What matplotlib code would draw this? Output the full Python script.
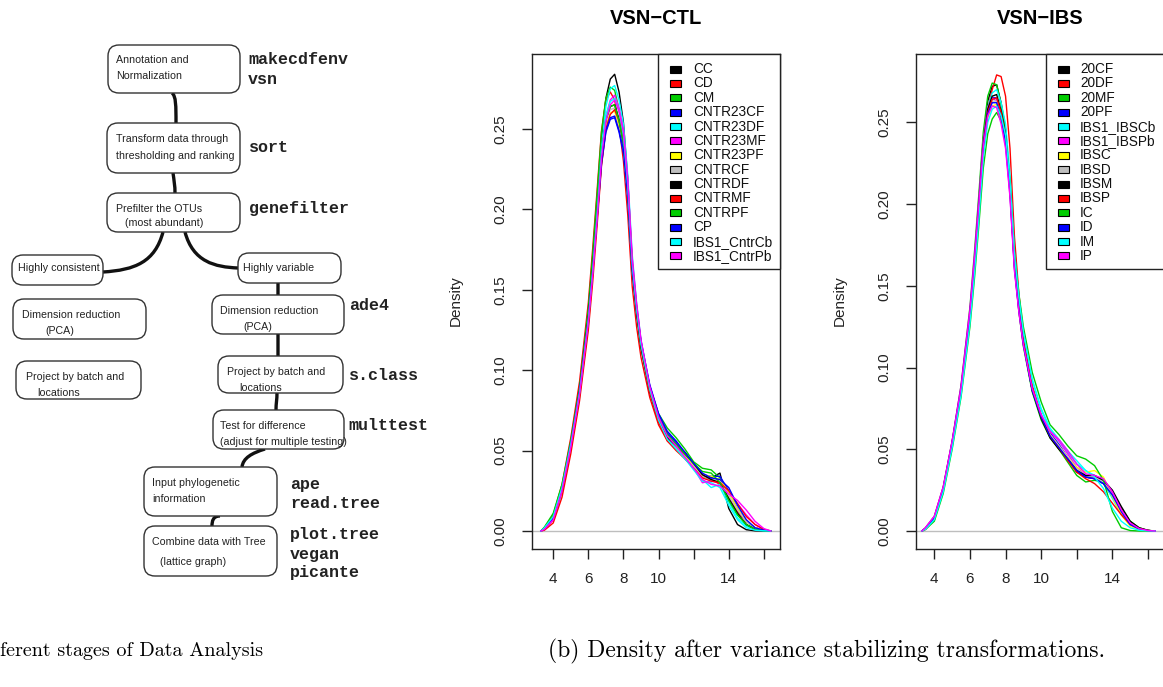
import matplotlib
matplotlib.use("Agg")
import matplotlib.pyplot as plt
from matplotlib.patches import FancyBboxPatch, Rectangle, PathPatch
from matplotlib.path import Path

# ---------------- data ----------------
x_grid = [3.3, 3.5, 4.0, 4.5, 5.0, 5.5, 6.0, 6.25, 6.5, 6.75, 7.0, 7.25, 7.5, 7.75,
          8.0, 8.25, 8.5, 8.75, 9.0, 9.5, 10.0, 10.5, 11.0, 11.5, 12.0, 12.5, 13.0,
          13.5, 14.0, 14.5, 15.0, 15.5, 16.0, 16.4]

ctl_names = ["CC", "CD", "CM", "CNTR23CF", "CNTR23DF", "CNTR23MF", "CNTR23PF",
             "CNTRCF", "CNTRDF", "CNTRMF", "CNTRPF", "CP", "IBS1_CntrCb", "IBS1_CntrPb"]
ctl_density = [
    [0, 0.001, 0.007, 0.025, 0.053, 0.086, 0.133, 0.166, 0.203, 0.244, 0.269, 0.281, 0.284, 0.273, 0.254, 0.218, 0.166, 0.137, 0.114, 0.086, 0.068, 0.058, 0.054, 0.049, 0.042, 0.035, 0.033, 0.036, 0.014, 0.004, 0.0008, 0.0001, 0, 0],
    [0, 0.002, 0.010, 0.029, 0.058, 0.093, 0.142, 0.176, 0.212, 0.249, 0.268, 0.273, 0.268, 0.252, 0.230, 0.196, 0.152, 0.127, 0.108, 0.083, 0.066, 0.056, 0.051, 0.045, 0.039, 0.034, 0.032, 0.029, 0.021, 0.012, 0.006, 0.002, 0.0005, 0],
    [0, 0.0025, 0.011, 0.029, 0.056, 0.089, 0.138, 0.172, 0.209, 0.248, 0.269, 0.276, 0.274, 0.262, 0.244, 0.211, 0.163, 0.136, 0.116, 0.090, 0.073, 0.064, 0.058, 0.051, 0.043, 0.039, 0.038, 0.033, 0.020, 0.010, 0.004, 0.0015, 0.0003, 0],
    [0, 0.0015, 0.008, 0.026, 0.054, 0.087, 0.132, 0.162, 0.194, 0.228, 0.248, 0.256, 0.257, 0.248, 0.235, 0.206, 0.161, 0.136, 0.116, 0.090, 0.072, 0.061, 0.055, 0.048, 0.041, 0.035, 0.034, 0.034, 0.025, 0.014, 0.006, 0.002, 0.0005, 0],
    [0, 0.001, 0.007, 0.024, 0.051, 0.083, 0.128, 0.160, 0.197, 0.238, 0.264, 0.275, 0.277, 0.268, 0.253, 0.221, 0.172, 0.142, 0.119, 0.089, 0.070, 0.058, 0.051, 0.045, 0.039, 0.032, 0.027, 0.029, 0.018, 0.008, 0.003, 0.001, 0.0002, 0],
    [0, 0.001, 0.007, 0.025, 0.052, 0.085, 0.130, 0.160, 0.195, 0.233, 0.258, 0.268, 0.271, 0.263, 0.249, 0.218, 0.170, 0.141, 0.118, 0.089, 0.071, 0.059, 0.052, 0.046, 0.039, 0.030, 0.031, 0.030, 0.024, 0.017, 0.010, 0.004, 0.001, 0],
    [0, 0.0015, 0.008, 0.026, 0.054, 0.087, 0.131, 0.161, 0.195, 0.230, 0.252, 0.260, 0.261, 0.252, 0.238, 0.208, 0.162, 0.136, 0.115, 0.088, 0.070, 0.059, 0.053, 0.047, 0.041, 0.035, 0.034, 0.032, 0.024, 0.014, 0.006, 0.002, 0.0005, 0],
    [0, 0.0015, 0.008, 0.026, 0.053, 0.086, 0.131, 0.162, 0.196, 0.232, 0.254, 0.262, 0.263, 0.254, 0.239, 0.208, 0.161, 0.135, 0.114, 0.087, 0.069, 0.058, 0.052, 0.046, 0.040, 0.034, 0.032, 0.031, 0.022, 0.013, 0.006, 0.002, 0.0005, 0],
    [0, 0.0015, 0.008, 0.026, 0.054, 0.087, 0.133, 0.164, 0.198, 0.234, 0.256, 0.264, 0.265, 0.256, 0.241, 0.209, 0.162, 0.135, 0.114, 0.087, 0.069, 0.058, 0.053, 0.048, 0.042, 0.035, 0.032, 0.030, 0.020, 0.011, 0.004, 0.001, 0.0002, 0],
    [0, 0.0005, 0.005, 0.021, 0.048, 0.081, 0.125, 0.155, 0.190, 0.227, 0.250, 0.259, 0.262, 0.255, 0.242, 0.213, 0.167, 0.139, 0.117, 0.087, 0.068, 0.056, 0.050, 0.045, 0.039, 0.033, 0.031, 0.030, 0.025, 0.017, 0.009, 0.004, 0.001, 0],
    [0, 0.002, 0.009, 0.027, 0.055, 0.088, 0.134, 0.165, 0.199, 0.235, 0.256, 0.264, 0.265, 0.255, 0.241, 0.211, 0.166, 0.139, 0.117, 0.089, 0.071, 0.060, 0.054, 0.048, 0.042, 0.037, 0.036, 0.030, 0.019, 0.010, 0.004, 0.001, 0.0002, 0],
    [0, 0.0015, 0.008, 0.026, 0.054, 0.087, 0.132, 0.162, 0.195, 0.229, 0.249, 0.257, 0.258, 0.249, 0.237, 0.208, 0.163, 0.138, 0.118, 0.091, 0.073, 0.062, 0.056, 0.049, 0.042, 0.036, 0.033, 0.032, 0.027, 0.016, 0.007, 0.002, 0.0005, 0],
    [0, 0.002, 0.009, 0.027, 0.054, 0.086, 0.131, 0.162, 0.197, 0.235, 0.258, 0.267, 0.269, 0.261, 0.246, 0.214, 0.166, 0.138, 0.116, 0.088, 0.069, 0.057, 0.051, 0.045, 0.038, 0.031, 0.030, 0.027, 0.016, 0.007, 0.002, 0.0005, 0.0001, 0],
    [0, 0.001, 0.007, 0.025, 0.052, 0.085, 0.130, 0.160, 0.194, 0.232, 0.255, 0.265, 0.268, 0.261, 0.248, 0.217, 0.169, 0.141, 0.119, 0.090, 0.071, 0.059, 0.053, 0.046, 0.039, 0.032, 0.029, 0.028, 0.023, 0.019, 0.013, 0.006, 0.0015, 0],
]

ibs_names = ["20CF", "20DF", "20MF", "20PF", "IBS1_IBSCb", "IBS1_IBSPb", "IBSC",
             "IBSD", "IBSM", "IBSP", "IC", "ID", "IM", "IP"]
ibs_density = [
    [0, 0.0015, 0.008, 0.026, 0.054, 0.087, 0.134, 0.166, 0.202, 0.240, 0.263, 0.272, 0.273, 0.262, 0.246, 0.213, 0.165, 0.137, 0.115, 0.086, 0.070, 0.058, 0.051, 0.044, 0.036, 0.033, 0.033, 0.030, 0.023, 0.013, 0.005, 0.0015, 0.0003, 0],
    [0, 0.001, 0.007, 0.025, 0.053, 0.086, 0.130, 0.161, 0.195, 0.234, 0.258, 0.270, 0.279, 0.278, 0.266, 0.234, 0.180, 0.145, 0.120, 0.089, 0.071, 0.058, 0.050, 0.044, 0.037, 0.033, 0.032, 0.029, 0.021, 0.012, 0.005, 0.0015, 0.0003, 0],
    [0, 0.002, 0.009, 0.027, 0.055, 0.089, 0.137, 0.170, 0.206, 0.244, 0.266, 0.274, 0.273, 0.261, 0.244, 0.210, 0.162, 0.134, 0.113, 0.085, 0.068, 0.057, 0.050, 0.042, 0.034, 0.030, 0.031, 0.030, 0.024, 0.014, 0.006, 0.002, 0.0004, 0],
    [0, 0.0015, 0.008, 0.026, 0.054, 0.087, 0.133, 0.164, 0.199, 0.236, 0.257, 0.265, 0.265, 0.255, 0.240, 0.209, 0.163, 0.136, 0.115, 0.087, 0.071, 0.060, 0.053, 0.045, 0.037, 0.033, 0.032, 0.029, 0.022, 0.012, 0.005, 0.0015, 0.0003, 0],
    [0, 0.0015, 0.008, 0.025, 0.052, 0.085, 0.130, 0.161, 0.197, 0.236, 0.259, 0.268, 0.270, 0.262, 0.249, 0.218, 0.171, 0.143, 0.121, 0.092, 0.074, 0.062, 0.055, 0.048, 0.041, 0.037, 0.034, 0.030, 0.020, 0.010, 0.004, 0.001, 0.0002, 0],
    [0, 0.002, 0.009, 0.027, 0.055, 0.089, 0.136, 0.168, 0.203, 0.239, 0.259, 0.265, 0.263, 0.252, 0.236, 0.205, 0.160, 0.134, 0.114, 0.087, 0.071, 0.061, 0.055, 0.047, 0.039, 0.034, 0.033, 0.031, 0.023, 0.013, 0.005, 0.0015, 0.0003, 0],
    [0, 0.0015, 0.008, 0.026, 0.054, 0.087, 0.132, 0.162, 0.196, 0.232, 0.253, 0.260, 0.261, 0.252, 0.238, 0.208, 0.162, 0.136, 0.115, 0.087, 0.070, 0.059, 0.052, 0.045, 0.039, 0.036, 0.037, 0.033, 0.021, 0.010, 0.003, 0.001, 0.0002, 0],
    [0, 0.0015, 0.008, 0.026, 0.054, 0.087, 0.132, 0.163, 0.197, 0.234, 0.255, 0.263, 0.263, 0.254, 0.239, 0.208, 0.162, 0.135, 0.114, 0.086, 0.070, 0.059, 0.052, 0.045, 0.038, 0.034, 0.033, 0.030, 0.022, 0.012, 0.005, 0.0015, 0.0003, 0],
    [0, 0.0015, 0.008, 0.026, 0.054, 0.087, 0.133, 0.164, 0.199, 0.236, 0.258, 0.266, 0.267, 0.257, 0.242, 0.210, 0.163, 0.136, 0.115, 0.086, 0.069, 0.057, 0.050, 0.044, 0.037, 0.034, 0.034, 0.031, 0.025, 0.015, 0.006, 0.002, 0.0004, 0],
    [0, 0.001, 0.007, 0.025, 0.053, 0.086, 0.131, 0.162, 0.197, 0.234, 0.256, 0.264, 0.265, 0.256, 0.241, 0.210, 0.164, 0.137, 0.116, 0.088, 0.070, 0.058, 0.051, 0.043, 0.036, 0.032, 0.029, 0.024, 0.017, 0.010, 0.004, 0.0015, 0.0003, 0],
    [0, 0.001, 0.006, 0.023, 0.050, 0.082, 0.125, 0.154, 0.187, 0.222, 0.243, 0.252, 0.256, 0.251, 0.241, 0.214, 0.170, 0.145, 0.125, 0.097, 0.079, 0.065, 0.059, 0.052, 0.046, 0.044, 0.040, 0.031, 0.012, 0.002, 0.0003, 0, 0, 0],
    [0, 0.0015, 0.008, 0.026, 0.054, 0.087, 0.133, 0.164, 0.198, 0.234, 0.255, 0.262, 0.262, 0.253, 0.238, 0.207, 0.161, 0.135, 0.114, 0.086, 0.070, 0.058, 0.051, 0.044, 0.037, 0.033, 0.032, 0.029, 0.022, 0.012, 0.004, 0.0012, 0.0002, 0],
    [0, 0.001, 0.007, 0.024, 0.051, 0.083, 0.127, 0.157, 0.191, 0.228, 0.250, 0.258, 0.260, 0.254, 0.242, 0.214, 0.169, 0.143, 0.122, 0.093, 0.075, 0.063, 0.056, 0.049, 0.043, 0.037, 0.033, 0.026, 0.014, 0.006, 0.002, 0.0005, 0.0001, 0],
    [0, 0.002, 0.009, 0.027, 0.055, 0.088, 0.135, 0.166, 0.200, 0.235, 0.254, 0.260, 0.259, 0.249, 0.234, 0.204, 0.159, 0.134, 0.114, 0.087, 0.071, 0.061, 0.056, 0.049, 0.041, 0.035, 0.034, 0.032, 0.024, 0.013, 0.005, 0.0015, 0.0003, 0],
]

r_palette = ["#000000", "#FF0000", "#00CD00", "#0000FF", "#00FFFF", "#FF00FF", "#FFFF00", "#BEBEBE"]
x_ticks = [4, 6, 8, 10, 12, 14, 16]
x_ticklabels = ["4", "6", "8", "10", "", "14", ""]
y_ticks = [0.00, 0.05, 0.10, 0.15, 0.20, 0.25]
y_ticklabels = ["0.00", "0.05", "0.10", "0.15", "0.20", "0.25"]

# ---------------- figure ----------------
W, H = 1163, 687
fig = plt.figure(figsize=(W / 100, H / 100), dpi=100)
fig.patch.set_facecolor("white")


def px_axes(l, t, r, b):
    return fig.add_axes([l / W, 1 - b / H, (r - l) / W, (b - t) / H])


SANS = ["Liberation Sans", "DejaVu Sans"]


def density_panel(ax, names, dens, xlim, ylim):
    for i, (nm, d) in enumerate(zip(names, dens)):
        ax.plot(x_grid, d, color=r_palette[i % 8], lw=1.0, solid_joinstyle="round")
    ax.axhline(0, color="#BEBEBE", lw=1.0, zorder=0)
    ax.set_xlim(*xlim)
    ax.set_ylim(*ylim)
    ax.set_xticks(x_ticks)
    ax.set_xticklabels(x_ticklabels, fontsize=11, family=SANS)
    ax.set_yticks(y_ticks)
    ax.set_yticklabels(y_ticklabels, fontsize=11, family=SANS, rotation=90, va="center")
    ax.tick_params(axis="both", direction="out", length=7.5, width=1.0, colors="#222222")
    ax.tick_params(axis="x", pad=9)
    ax.tick_params(axis="y", pad=10)
    for s in ax.spines.values():
        s.set_linewidth(1.0)
        s.set_color("#222222")


ax1 = px_axes(532, 54, 780, 549)
density_panel(ax1, ctl_names, ctl_density, (2.79, 16.92), (-0.0112, 0.2966))
ax2 = px_axes(916, 54, 1164, 549)
density_panel(ax2, ibs_names, ibs_density, (2.97, 16.90), (-0.011, 0.2918))

# overlay axes in pixel coordinates
fax = fig.add_axes([0, 0, 1, 1])
fax.set_xlim(0, W)
fax.set_ylim(H, 0)
fax.axis("off")
fax.patch.set_visible(False)

# titles and y labels
fax.text(656, 19, "VSN\u2212CTL", ha="center", va="center", fontsize=14.5, fontweight="bold", family=SANS)
fax.text(1040, 19, "VSN\u2212IBS", ha="center", va="center", fontsize=14.5, fontweight="bold", family=SANS)
fax.text(456, 301, "Density", ha="center", va="center", rotation=90, fontsize=11, family=SANS, color="#222222")
fax.text(840, 301, "Density", ha="center", va="center", rotation=90, fontsize=11, family=SANS, color="#222222")


def legend(x_left, x_right, sq_x, txt_x, names):
    fax.add_patch(Rectangle((x_left, 54), x_right - x_left, 215, facecolor="white",
                            edgecolor="#222222", lw=1.0, zorder=5))
    for i, nm in enumerate(names):
        y = 69 + i * 14.38
        fax.add_patch(Rectangle((sq_x, y - 3.5), 10.5, 7, facecolor=r_palette[i % 8],
                                edgecolor="black", lw=0.8, zorder=6))
        fax.text(txt_x, y, nm, ha="left", va="center", fontsize=9.8, family=SANS, zorder=6,
                 color="#111111")


legend(658, 780, 670, 693, ctl_names)
legend(1046, 1175, 1058, 1080, ibs_names)

# ---------------- flowchart ----------------
BOXTXT = ["Liberation Sans", "DejaVu Sans"]
MONO = ["Liberation Mono", "DejaVu Sans Mono"]

boxes = [
    (108, 45, 240, 93, [("Annotation and", 116, 60), ("Normalization", 116, 76)]),
    (107, 123, 240, 173, [("Transform data through", 116, 139), ("thresholding and ranking", 116, 156)]),
    (107, 193, 240, 232, [("Prefilter the OTUs", 116, 209), ("(most abundant)", 125, 223)]),
    (12, 255, 103, 285, [("Highly consistent", 18, 268)]),
    (238, 253, 341, 283, [("Highly variable", 243, 268)]),
    (13, 299, 146, 339, [("Dimension reduction", 22, 315), ("(PCA)", 45, 331)]),
    (212, 295, 344, 334, [("Dimension reduction", 220, 311), ("(PCA)", 243, 327)]),
    (16, 361, 141, 399, [("Project by batch and", 26, 377), ("locations", 37, 393)]),
    (218, 356, 343, 393, [("Project by batch and", 227, 372), ("locations", 239, 388)]),
    (213, 410, 344, 449, [("Test for difference", 220, 426), ("(adjust for multiple testing)", 220, 442)]),
    (144, 467, 277, 516, [("Input phylogenetic", 152, 483), ("information", 152, 499)]),
    (144, 526, 277, 576, [("Combine data with Tree", 152, 542), ("(lattice graph)", 160, 562)]),
]
for (l, t, r, b, lines) in boxes:
    fax.add_patch(FancyBboxPatch((l, t), r - l, b - t, boxstyle="round,pad=0,rounding_size=11",
                                 facecolor="white", edgecolor="#333333", lw=1.0, zorder=2))
    for (s, x, y) in lines:
        fax.text(x, y, s, ha="left", va="center", fontsize=7.7, family=BOXTXT, color="#222222", zorder=3)

pkgs = [
    ("makecdfenv", 248, 59), ("vsn", 248, 79), ("sort", 249, 147), ("genefilter", 249, 208),
    ("ade4", 349, 306), ("s.class", 349, 376), ("multtest", 348, 425),
    ("ape", 290, 484), ("read.tree", 290, 503), ("plot.tree", 290, 534),
    ("vegan", 290, 554), ("picante", 290, 573),
]
for (s, x, y) in pkgs:
    fax.text(x, y, s, ha="left", va="center", fontsize=12, fontweight="bold", family=MONO, color="#222222")

# connectors
connectors = [
    [(172, 93), (176, 96), (176, 106), (176, 123)],
    [(173, 173), (174, 180), (175, 186), (175, 193)],
    [(163, 232), (155, 262), (135, 270), (103, 272)],
    [(185, 232), (193, 262), (215, 267), (238, 268)],
    [(278, 283), (278, 288), (278, 292), (278, 295)],
    [(278, 334), (278, 342), (278, 349), (278, 356)],
    [(277, 393), (277, 399), (276, 404), (276, 410)],
    [(265, 449), (252, 453), (243, 458), (242, 467)],
    [(220, 516), (213, 516), (212, 521), (212, 526)],
]
for pts in connectors:
    path = Path(pts, [Path.MOVETO, Path.CURVE4, Path.CURVE4, Path.CURVE4])
    fax.add_patch(PathPatch(path, facecolor="none", edgecolor="#111111", lw=2.4, zorder=1,
                            capstyle="butt"))

# captions
fax.text(0, 651, "ferent stages of Data Analysis", ha="left", va="center", fontsize=14.5, family="cmr10")
fax.text(548, 651, "(b) Density after variance stabilizing transformations.", ha="left", va="center",
         fontsize=17, family="cmr10")

fig.savefig("out.png", dpi=100)
